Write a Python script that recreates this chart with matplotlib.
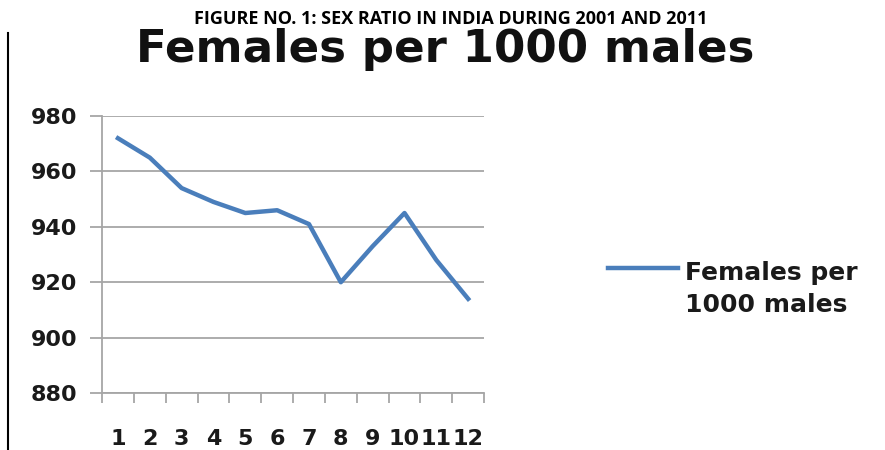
import matplotlib.pyplot as plt
import numpy as np

# values (category 1..12)
categories = ['1', '2', '3', '4', '5', '6', '7', '8', '9', '10', '11', '12']
females_per_1000 = [972, 965, 954, 949, 945, 946, 941, 920, 933, 945, 928, 914]
yticks = [880, 900, 920, 940, 960, 980]
series_name = 'Females per\n1000 males'

fig = plt.figure(figsize=(8.85, 4.5), dpi=100)
ax = fig.add_axes([0.1153, 0.1267, 0.4317, 0.6153])

x = np.arange(1, len(categories) + 1)
line, = ax.plot(x, females_per_1000, color='#4a7ebb', linewidth=3.2)

ax.set_xlim(0.5, len(categories) + 0.5)
ax.set_ylim(880, 980)
ax.set_yticks(yticks)
ax.yaxis.grid(True, color='#a6a6a6', linewidth=1.3)
ax.set_axisbelow(True)

# category boundaries get tick marks, labels sit in the middle
ax.set_xticks(np.arange(0.5, len(categories) + 1))
ax.set_xticklabels([])
ax.set_xticks(x, minor=True)
ax.set_xticklabels(categories, minor=True, fontsize=16, fontweight='bold',
                   color='#1a1a1a')
ax.tick_params(axis='x', which='major', direction='out', length=7,
               width=1.3, color='#a6a6a6')
ax.tick_params(axis='x', which='minor', length=0, pad=26)
ax.tick_params(axis='y', direction='out', length=8.5, width=1.3,
               color='#a6a6a6', labelsize=16, labelcolor='#1a1a1a', pad=9)
for lab in ax.get_yticklabels():
    lab.set_fontweight('bold')

for side in ['top', 'right']:
    ax.spines[side].set_visible(False)
for side in ['left', 'bottom']:
    ax.spines[side].set_color('#a6a6a6')
    ax.spines[side].set_linewidth(1.3)

# legend drawn by hand: handle sits level with the first text line
fig.add_artist(plt.Line2D([0.687, 0.766], [0.404, 0.404], color='#4a7ebb',
                          linewidth=3.2, transform=fig.transFigure))
fig.text(0.774, 0.307, series_name, ha='left', va='baseline', fontsize=18,
         fontweight='bold', color='#1a1a1a', linespacing=1.4)

fig.text(0.509, 0.9467, 'FIGURE NO. 1: SEX RATIO IN INDIA DURING 2001 AND 2011',
         ha='center', va='baseline', fontsize=13, fontweight='bold',
         family='Open Sans')
fig.text(0.503, 0.862, 'Females per 1000 males', ha='center', va='baseline',
         fontsize=32.5, fontweight='bold', family='DejaVu Sans', color='#111111')

# left border line of the page
fig.add_artist(plt.Line2D([0.0095, 0.0095], [0.0, 0.927], color='black',
                          linewidth=1.5, transform=fig.transFigure))

fig.savefig('out.png', dpi=100)
